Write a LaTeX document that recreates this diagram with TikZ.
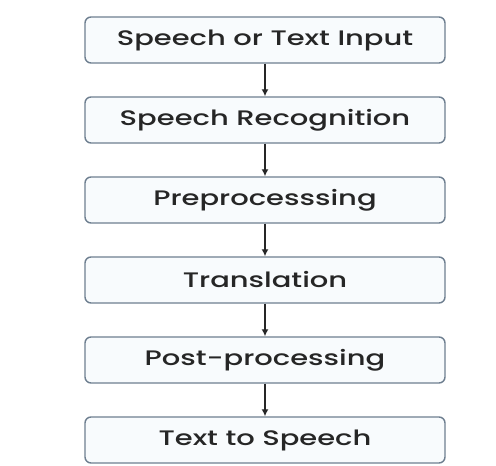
\documentclass[tikz,border=0pt]{standalone}
\usepackage{fontspec}
\newfontfamily\boxfont{Poppins Medium}[FakeStretch=1.38]
\usetikzlibrary{arrows.meta}
\definecolor{boxline}{HTML}{6E7F90}
\definecolor{boxfill}{HTML}{F8FBFD}
\definecolor{txt}{HTML}{262626}
\begin{document}
\begin{tikzpicture}[x=1pt,y=1pt,
  stepbox/.style={draw=boxline, fill=boxfill, line width=1.4pt, rounded corners=6pt,
    minimum width=360pt, minimum height=46pt, inner sep=0pt, text=txt,
    font=\boxfont\fontsize{21}{24}\selectfont},
  flow/.style={-{Latex[length=7pt,width=7pt]}, line width=1.4pt, draw=black!85}]
\useasboundingbox (0,0) rectangle (496,466);
\fill[white] (0,0) rectangle (496,466);
\node[stepbox] (a) at (265,426) {Speech or Text Input};
\node[stepbox] (b) at (265,346) {Speech Recognition};
\node[stepbox] (c) at (265,266) {Preprocesssing};
\node[stepbox] (d) at (265,186) {Translation};
\node[stepbox] (e) at (265,106) {Post-processing};
\node[stepbox] (f) at (265,26) {Text to Speech};
\draw[flow] (a.south) -- (b.north);
\draw[flow] (b.south) -- (c.north);
\draw[flow] (c.south) -- (d.north);
\draw[flow] (d.south) -- (e.north);
\draw[flow] (e.south) -- (f.north);
\end{tikzpicture}
\end{document}
